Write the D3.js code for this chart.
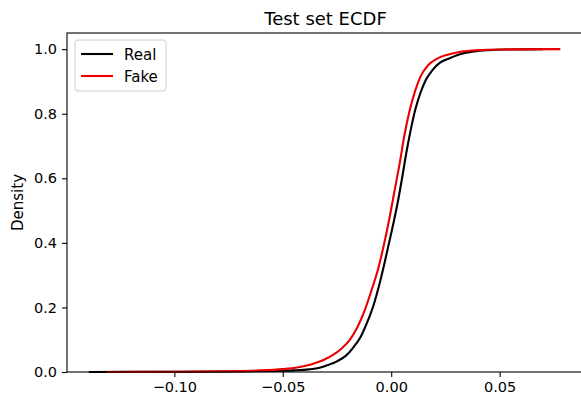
<!DOCTYPE html>
<html>
<head>
<meta charset="utf-8">
<script src="https://d3js.org/d3.v7.min.js"></script>
<style>
body { margin: 0; background: #fff; }
text { font-family: "DejaVu Sans", sans-serif; }
</style>
</head>
<body>
<svg id="chart" width="581" height="398"></svg>
<script>
// ECDF values: [x, cumulative share]
var realPts = [[-0.1394,0],[-0.12,0.0003],[-0.09,0.0008],[-0.07,0.0015],[-0.055,0.003],[-0.045,0.005],
  [-0.038,0.008],[-0.033,0.013],[-0.029,0.022],[-0.025,0.033],[-0.021,0.05],[-0.0176,0.075],[-0.014,0.11],
  [-0.011,0.155],[-0.008,0.21],[-0.0055,0.27],[-0.003,0.34],[-0.001,0.40],[0.001,0.46],[0.003,0.525],
  [0.005,0.60],[0.007,0.68],[0.009,0.75],[0.011,0.81],[0.0135,0.865],[0.016,0.905],[0.019,0.935],
  [0.0225,0.958],[0.027,0.972],[0.032,0.985],[0.038,0.993],[0.045,0.997],[0.055,0.999],[0.07,1.0]];

var fakePts = [[-0.131,0],[-0.11,0.0005],[-0.09,0.0012],[-0.075,0.0025],[-0.06,0.005],[-0.05,0.009],
  [-0.044,0.013],[-0.039,0.02],[-0.035,0.028],[-0.031,0.038],[-0.027,0.052],[-0.023,0.072],[-0.019,0.10],
  [-0.0155,0.14],[-0.012,0.195],[-0.009,0.255],[-0.006,0.32],[-0.0035,0.39],[-0.001,0.47],[0.0015,0.56],
  [0.004,0.65],[0.006,0.73],[0.0085,0.81],[0.011,0.87],[0.0135,0.915],[0.017,0.95],[0.021,0.97],
  [0.026,0.983],[0.032,0.992],[0.04,0.997],[0.05,0.999],[0.078,1.0]];

var xTicks = [-0.10, -0.05, 0.00, 0.05];
var yTicks = [0.0, 0.2, 0.4, 0.6, 0.8, 1.0];
var seriesNames = ["Real", "Fake"];
var seriesColors = ["black", "#ea0000"];

var svg = d3.select("#chart");
var plotL = 67, plotR = 584, plotT = 33, plotB = 372;

var x = d3.scaleLinear().domain([-0.1495, 0.0889]).range([plotL, plotR]);
var y = d3.scaleLinear().domain([0, 1.05]).range([plotB, plotT]);

// x axis
var xAxis = svg.append("g")
  .attr("transform", "translate(0," + plotB + ")")
  .call(d3.axisBottom(x).tickValues(xTicks).tickFormat(function(d) {
    return d3.format(".2f")(d).replace("-", "\u2212");
  }).tickSize(5).tickPadding(5));

// y axis
var yAxis = svg.append("g")
  .attr("transform", "translate(" + plotL + ",0)")
  .call(d3.axisLeft(y).tickValues(yTicks).tickFormat(d3.format(".1f")).tickSize(5).tickPadding(5));

[xAxis, yAxis].forEach(function(a) {
  a.select(".domain").remove();
  a.selectAll(".tick line").attr("stroke", "black").attr("stroke-width", 1.1);
  a.selectAll(".tick text").attr("fill", "black").style("font-size", "14.5px")
    .style("font-family", "DejaVu Sans");
});

// the lines
var line = d3.line()
  .x(function(d) { return x(d[0]); })
  .y(function(d) { return y(d[1]); })
  .curve(d3.curveMonotoneX);

[realPts, fakePts].forEach(function(pts, i) {
  svg.append("path")
    .datum(pts)
    .attr("fill", "none")
    .attr("stroke", seriesColors[i])
    .attr("stroke-width", 2.1)
    .attr("d", line);
});

// frame
svg.append("rect")
  .attr("x", plotL).attr("y", plotT)
  .attr("width", plotR - plotL).attr("height", plotB - plotT)
  .attr("fill", "none").attr("stroke", "black").attr("stroke-width", 1.1);

// title and label
svg.append("text")
  .attr("x", (plotL + plotR) / 2).attr("y", 25)
  .attr("text-anchor", "middle")
  .style("font-size", "18px")
  .text("Test set ECDF");

svg.append("text")
  .attr("transform", "translate(23," + ((plotT + plotB) / 2) + ") rotate(-90)")
  .attr("text-anchor", "middle")
  .style("font-size", "15px")
  .text("Density");

// legend
var lg = svg.append("g").attr("transform", "translate(75,40)");
lg.append("rect")
  .attr("width", 91).attr("height", 51).attr("rx", 3)
  .attr("fill", "white").attr("fill-opacity", 0.8)
  .attr("stroke", "#cccccc").attr("stroke-width", 1);
seriesNames.forEach(function(name, i) {
  var yy = 14 + i * 22;
  lg.append("line")
    .attr("x1", 6).attr("x2", 38).attr("y1", yy).attr("y2", yy)
    .attr("stroke", seriesColors[i]).attr("stroke-width", 2.1);
  lg.append("text")
    .attr("x", 49).attr("y", yy + 5.5)
    .style("font-size", "15px")
    .text(name);
});
</script>
</body>
</html>
